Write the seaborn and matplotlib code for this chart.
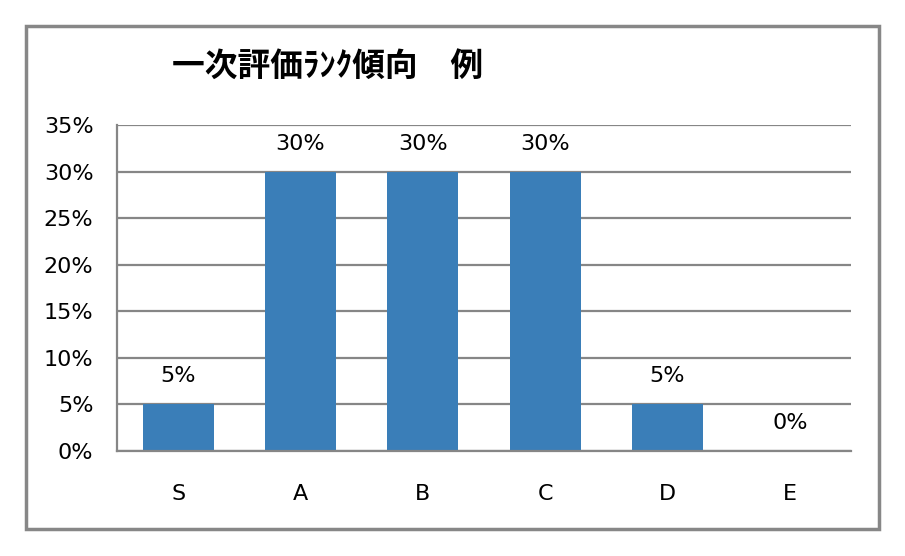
import matplotlib
matplotlib.use("Agg")
import matplotlib.pyplot as plt
import seaborn as sns
import pandas as pd
from matplotlib.patches import Rectangle
from matplotlib.ticker import FuncFormatter, MultipleLocator

categories = ["S", "A", "B", "C", "D", "E"]
values = [5, 30, 30, 30, 5, 0]
title = "一次評価ﾗﾝｸ傾向　例"

df = pd.DataFrame({"rank": categories, "pct": values})

sns.set_theme(style="white")
plt.rcParams['font.family'] = ['DejaVu Sans']
plt.rcParams['text.color'] = 'black'

fig = plt.figure(figsize=(9.05, 5.56), dpi=100)
ax = fig.add_axes([117/905, 1-451/556, (851-117)/905, (451-125)/556])

sns.barplot(data=df, x="rank", y="pct", color="#3A7EB8", saturation=1,
            width=0.58, linewidth=0, ax=ax)

ax.set_ylim(0, 35)
ax.set_xlim(-0.5, 5.5)
ax.yaxis.set_major_locator(MultipleLocator(5))
ax.yaxis.set_major_formatter(FuncFormatter(lambda v, p: f"{int(round(v))}%"))
ax.grid(axis="y", color="#868686", linewidth=1.6)
ax.set_axisbelow(True)
for s in ["top", "right"]:
    ax.spines[s].set_visible(False)
for s in ["left", "bottom"]:
    ax.spines[s].set_color("#868686")
    ax.spines[s].set_linewidth(1.6)
ax.set_xlabel("")
ax.set_ylabel("")
ax.tick_params(axis="y", labelsize=16, pad=17, length=0, labelcolor="black")
ax.tick_params(axis="x", labelsize=16, pad=24, length=0, labelcolor="black")

for i, v in enumerate(values):
    ax.text(i, v + 3, f"{v}%", ha="center", va="center", fontsize=16, color="black")

fig.text(172/905, 1-66/556, title, ha="left", va="center", fontsize=23.6,
         fontweight="bold", color="black",
         family=['Noto Sans CJK JP', 'DejaVu Sans'])

fig.patches.append(Rectangle((25.5/905, 1-529/556), (879-25.5)/905, (529-25.5)/556,
                             transform=fig.transFigure, fill=False,
                             edgecolor="#878787", linewidth=2.5))

fig.savefig("out.png", dpi=100)
